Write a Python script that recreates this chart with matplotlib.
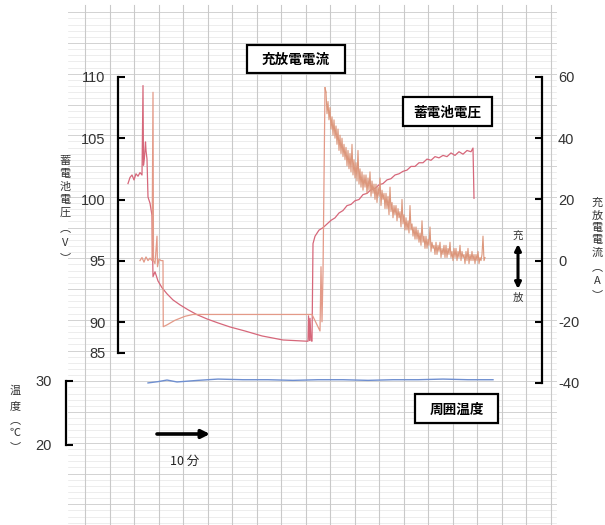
import numpy as np
import matplotlib
matplotlib.use('Agg')
import matplotlib.pyplot as plt
from matplotlib.patches import Rectangle

plt.rcParams['font.family'] = ['Liberation Sans Narrow', 'Liberation Sans', 'DejaVu Sans']
plt.rcParams['axes.unicode_minus'] = False
JP = ['Noto Sans CJK JP', 'DejaVu Sans']

W, H = 605, 525

# 蓄電池電圧 (V), time in minutes
volt_time = [2.0, 2.4, 2.8, 3.2, 3.6, 4.0, 4.4, 4.8, 5.0, 5.1, 5.3, 5.5, 5.6, 5.8,
             6.0, 6.4, 6.8, 7.0, 7.4, 8.0, 8.8, 9.8, 11.0, 12.4, 14.0, 15.8, 17.8,
             20.0, 22.4, 25.4, 28.8, 33.0, 37.8, 38.0, 38.1, 38.3, 38.4, 38.6, 38.8, 39.0,
             39.4, 40.2, 41.0, 41.8, 42.6, 43.4, 44.2, 45.0, 45.8, 46.6, 47.4, 48.2,
             49.0, 49.8, 50.6, 51.4, 52.2, 53.0, 53.8, 54.6, 55.4, 56.2, 57.0, 57.8,
             58.6, 59.4, 60.2, 61.0, 61.8, 62.6, 63.4, 64.2, 65.0, 65.8, 66.6, 67.4,
             68.2, 69.0, 69.8, 70.6, 71.0, 71.2]
volt_val = [101.3, 101.8, 102.0, 101.6, 102.1, 101.9, 102.2, 102.0, 109.3, 102.8, 103.5,
            104.7, 104.0, 103.3, 100.2, 99.7, 98.7, 93.7, 94.1, 93.35, 92.8, 92.3, 91.8,
            91.4, 91.0, 90.6, 90.25, 89.85, 89.2, 88.55, 87.75, 87.1, 86.9, 86.9, 90.5,
            87.0, 90.3, 87.0, 86.9, 96.4,
            97.0, 97.5, 97.7, 98.0, 98.3, 98.5, 98.9, 99.1, 99.5, 99.6, 99.9, 100.0,
            100.4, 100.5, 100.8, 100.9, 101.2, 101.3, 101.6, 101.7, 102.0, 102.1, 102.3,
            102.4, 102.7, 102.7, 103.0, 103.0, 103.3, 103.2, 103.5, 103.4, 103.6, 103.5,
            103.8, 103.6, 103.9, 103.7, 104.0, 103.9, 104.2, 100.1]

# 充放電電流 (A)
amp_time = [4.4, 4.8, 5.2, 5.6, 6.0, 6.4, 6.8, 7.0, 7.1, 7.4, 7.8, 7.9, 8.2, 8.6, 9.0,
            9.05, 9.8, 11.4, 13.4, 15.0, 38.8, 40.4, 40.6, 40.8, 41.0, 41.4]
amp_val = [0, 1.0, -0.5, 1.2, 0, 0.8, 0, 55, 0, -1, 8, -2, 0.5, 0, 0,
           -21.6, -21, -19.5, -18.2, -17.6, -17.6, -23, -2, -20, -4, 56.5]
charge_time = np.linspace(41.6, 73.4, 160)
charge_amp = [55, 48, 52, 46, 50, 43, 47, 41, 46, 40,
              44, 38, 43, 36, 41, 35, 40, 34, 38, 33,
              37, 31, 36, 30, 35, 29, 38, 28, 33, 27,
              32, 26, 36, 25, 30, 24, 29, 23, 28, 24,
              28, 22, 27, 23, 29, 21, 26, 22, 25, 20,
              25, 19, 24, 21, 27, 18, 23, 20, 22, 17,
              22, 17, 21, 15, 24, 16, 19, 14, 18, 15,
              18, 13, 17, 14, 16, 11, 20, 12, 15, 10,
              14, 10, 13, 9, 18, 10, 12, 8, 11, 7,
              11, 7, 10, 6, 9, 5, 13, 6, 8, 4,
              8, 4, 7, 5, 11, 3, 6, 4, 5, 2,
              6, 2, 5, 3, 6, 1, 4, 2, 5, 1,
              5, 1, 4, 2, 6, 1, 3, 0, 4, 1,
              4, 0, 3, 1, 5, 0, 3, 1, 2, -1,
              3, 0, 4, -1, 2, 0, 3, 0, 2, -1,
              2, 0, 3, -1, 1, 0, 2, 8, 0, 1]

# 周囲温度 (℃)
temp_time = [6.0, 8.0, 9.8, 11.8, 16, 20, 25, 30, 35, 40, 45, 50, 55, 60, 65, 70, 75]
temp_val = [29.7, 29.9, 30.15, 29.85, 30.1, 30.3, 30.2, 30.2, 30.1, 30.2, 30.2, 30.1,
            30.2, 30.2, 30.3, 30.2, 30.2]

volt_ticks = [85, 90, 95, 100, 105, 110]
amp_ticks = [-40, -20, 0, 20, 40, 60]
temp_ticks = [20, 30]

fig = plt.figure(figsize=(W / 100, H / 100), dpi=100)

# 記録紙の背景
bg = fig.add_axes([0, 0, 1, 1], zorder=0)
bg.set_xlim(0, W)
bg.set_ylim(H, 0)
bg.axis('off')
for k in range(86):
    y = 412 - 6.15 * 5 * 13 + 6.15 * k
    if 5 < y < H:
        major = (k % 5 == 0)
        bg.plot([68, 556], [y, y], color='#d2d2d2' if major else '#e6e6e6',
                lw=0.7 if major else 0.5)
for k in range(20):
    x = 85 + 24.5 * k
    bg.plot([x, x], [5, H], color='#c9c9c9', lw=0.8)

boxes = [((247, 45, 98, 28), '充放電電流'),
         ((403, 97, 89, 29), '蓄電池電圧'),
         ((415, 394, 83, 29), '周囲温度')]
for (x0, y0, w, h), label in boxes:
    bg.add_patch(Rectangle((x0, y0), w, h, fc='white', ec='black', lw=1.6, zorder=5))
    bg.text(x0 + w / 2, y0 + h / 2 + 1, label, ha='center', va='center',
            fontsize=9.8, fontweight='bold', family=JP, zorder=6)

# 電圧・電流
ax = fig.add_axes([118 / W, 1 - 383 / H, 424 / W, 306 / H], zorder=2)
ax.patch.set_visible(False)
r = 0.506


def fwd(v):
    v = np.asarray(v, dtype=float)
    return np.where(v >= 90, v, 90 - (90 - v) * r)


def inv(u):
    u = np.asarray(u, dtype=float)
    return np.where(u >= 90, u, 90 - (90 - u) / r)


ax.set_yscale('function', functions=(fwd, inv))
ax.set_xlim(0, 84.8)
ax.set_ylim(80.16, 110)
ax.plot(volt_time, volt_val, color='#d6677a', lw=0.9)
ax.set_yticks(volt_ticks)
ax.set_yticklabels([str(t) for t in volt_ticks])
ax.yaxis.set_minor_locator(matplotlib.ticker.NullLocator())
ax.set_xticks([])
for s in ['top', 'bottom', 'right']:
    ax.spines[s].set_visible(False)
ax.spines['left'].set_bounds(85, 110)
ax.spines['left'].set_linewidth(1.6)
ax.tick_params(axis='y', direction='in', length=5, width=1.5, pad=9,
               labelsize=10.5, labelcolor='#333333')

ax2 = ax.twinx()
ax2.set_ylim(-40, 60)
ax2.plot(amp_time, amp_val, color='#e39a88', lw=0.9)
ax2.plot(charge_time, charge_amp, color='#dc977c', lw=0.8)
ax2.plot([amp_time[-1], charge_time[0]], [amp_val[-1], charge_amp[0]], color='#dc977c', lw=0.9)
ax2.set_yticks(amp_ticks)
for s in ['top', 'bottom', 'left']:
    ax2.spines[s].set_visible(False)
ax2.spines['right'].set_bounds(-40, 60)
ax2.spines['right'].set_linewidth(1.6)
ax2.tick_params(axis='y', direction='in', length=5, width=1.5, pad=11.5,
                labelsize=10.5, labelcolor='#333333')

# 温度
axt = fig.add_axes([118 / W, 1 - 457.8 / H, 424 / W, 89.6 / H], zorder=2)
axt.patch.set_visible(False)
axt.set_xlim(0, 84.8)
axt.set_ylim(18, 32)
axt.plot(temp_time, temp_val, color='#6f8fd0', lw=1.0)
axt.set_xticks([])
axt.set_yticks(temp_ticks)
for s in ['top', 'bottom', 'right']:
    axt.spines[s].set_visible(False)
axt.spines['left'].set_position(('axes', -52 / 424))
axt.spines['left'].set_bounds(20, 30)
axt.spines['left'].set_linewidth(1.6)
axt.tick_params(axis='y', direction='in', length=5, width=1.5, pad=10,
                labelsize=10.5, labelcolor='#333333')


def vtext(x, ys, chars, size=8):
    for y, ch in zip(ys, chars):
        fig.text(x / W, 1 - y / H, ch, ha='center', va='center', fontsize=size,
                 family=JP, color='#333333')


vtext(65, [161, 174, 187, 200, 213, 228, 243, 258], '蓄電池電圧︵V︶')
vtext(597, [203, 215.5, 228, 240.5, 253, 267, 281, 295], '充放電電流︵A︶')
vtext(15, [391, 406, 420, 433, 447], '温度︵℃︶')
vtext(518, [236, 298], '充放', size=7.5)

bg.annotate('', xy=(518, 244), xytext=(518, 289),
            arrowprops=dict(arrowstyle='<|-|>', color='black', lw=2.2,
                            mutation_scale=9, shrinkA=0, shrinkB=0))
bg.annotate('', xy=(210, 434), xytext=(157, 434),
            arrowprops=dict(arrowstyle='-|>', color='black', lw=2.6,
                            mutation_scale=12, shrinkA=0, shrinkB=0))
bg.text(185, 461, '10 分', ha='center', va='center', fontsize=9, family=JP, color='#222222')

fig.savefig('out.png', dpi=100)
